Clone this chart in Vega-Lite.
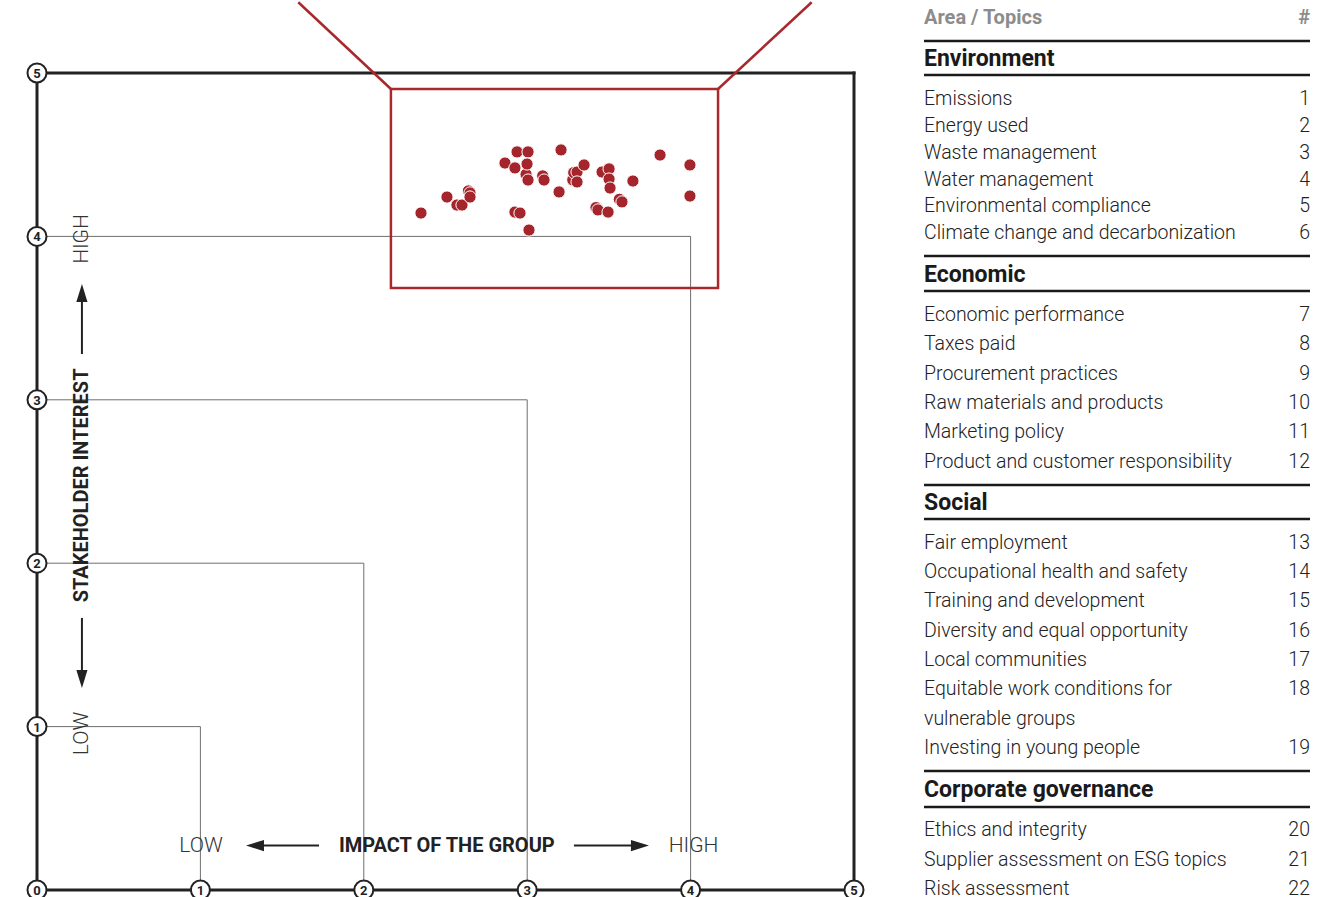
{
  "$schema": "https://vega.github.io/schema/vega-lite/v6.json",
  "autosize": {"type": "pad"},
  "padding": {"left": 23, "top": 0, "right": 0, "bottom": 0},
  "background": "white",
  "spacing": 54,
  "config": {"view": {"stroke": null}, "text": {"font": "Roboto, Liberation Sans, sans-serif"}},
  "datasets": {
    "guides": [
      {"x1": 0, "y1": 1, "x2": 1, "y2": 1}, {"x1": 1, "y1": 1, "x2": 1, "y2": 0},
      {"x1": 0, "y1": 2, "x2": 2, "y2": 2}, {"x1": 2, "y1": 2, "x2": 2, "y2": 0},
      {"x1": 0, "y1": 3, "x2": 3, "y2": 3}, {"x1": 3, "y1": 3, "x2": 3, "y2": 0},
      {"x1": 0, "y1": 4, "x2": 4, "y2": 4}, {"x1": 4, "y1": 4, "x2": 4, "y2": 0}
    ],
    "border": [
      {"x1": 0, "y1": 0, "x2": 0, "y2": 5}, {"x1": 0, "y1": 5, "x2": 5, "y2": 5},
      {"x1": 5, "y1": 5, "x2": 5, "y2": 0}, {"x1": 0, "y1": 0, "x2": 5, "y2": 0}
    ],
    "zoombox": [{"x1": 2.166, "y1": 3.684, "x2": 4.168, "y2": 4.902}],
    "zoomlines": [
      {"x1": 2.166, "y1": 4.902, "x2": 1.599, "y2": 5.433},
      {"x1": 4.168, "y1": 4.902, "x2": 4.741, "y2": 5.433}
    ],
    "topics": [
      {"x": 3.095, "y": 4.370}, {"x": 2.993, "y": 4.380}, {"x": 2.640, "y": 4.278},
      {"x": 3.564, "y": 4.227}, {"x": 3.421, "y": 4.176}, {"x": 3.279, "y": 4.346},
      {"x": 3.285, "y": 4.390},
      {"x": 2.350, "y": 4.143}, {"x": 2.509, "y": 4.241}, {"x": 2.570, "y": 4.192},
      {"x": 2.601, "y": 4.192}, {"x": 2.650, "y": 4.266}, {"x": 2.650, "y": 4.241},
      {"x": 2.864, "y": 4.449}, {"x": 2.925, "y": 4.419}, {"x": 2.938, "y": 4.517},
      {"x": 3.005, "y": 4.517}, {"x": 2.999, "y": 4.443}, {"x": 3.005, "y": 4.345},
      {"x": 3.103, "y": 4.345}, {"x": 2.925, "y": 4.149}, {"x": 2.956, "y": 4.143},
      {"x": 3.011, "y": 4.039}, {"x": 3.207, "y": 4.529}, {"x": 3.195, "y": 4.272},
      {"x": 3.305, "y": 4.394}, {"x": 3.348, "y": 4.437}, {"x": 3.305, "y": 4.333},
      {"x": 3.458, "y": 4.394}, {"x": 3.501, "y": 4.413}, {"x": 3.501, "y": 4.351},
      {"x": 3.507, "y": 4.296}, {"x": 3.647, "y": 4.339}, {"x": 3.580, "y": 4.211},
      {"x": 3.433, "y": 4.162}, {"x": 3.495, "y": 4.149}, {"x": 3.813, "y": 4.498},
      {"x": 3.996, "y": 4.437}, {"x": 3.996, "y": 4.247}
    ],
    "arrowlines": [
      {"x1": 0.275, "y1": 3.280, "x2": 0.275, "y2": 3.654},
      {"x1": 0.275, "y1": 1.665, "x2": 0.275, "y2": 1.291},
      {"x1": 1.726, "y1": 0.272, "x2": 1.334, "y2": 0.272},
      {"x1": 3.286, "y1": 0.272, "x2": 3.690, "y2": 0.272}
    ],
    "arrowheads": [
      {"x": 0.275, "y": 3.654, "dir": "up"},
      {"x": 0.275, "y": 1.291, "dir": "down"},
      {"x": 1.334, "y": 0.272, "dir": "left"},
      {"x": 3.690, "y": 0.272, "dir": "right"}
    ],
    "axislabels": [
      {"text": "HIGH", "x": 0.275, "y": 3.984, "role": "v"},
      {"text": "LOW", "x": 0.275, "y": 0.958, "role": "v"},
      {"text": "STAKEHOLDER INTEREST", "x": 0.275, "y": 2.476, "role": "vt"},
      {"text": "LOW", "x": 1.004, "y": 0.272, "role": "h"},
      {"text": "IMPACT OF THE GROUP", "x": 2.508, "y": 0.272, "role": "ht"},
      {"text": "HIGH", "x": 4.018, "y": 0.272, "role": "h"}
    ],
    "ticks": [
      {"x": 0, "y": 0, "label": "0"}, {"x": 0, "y": 1, "label": "1"}, {"x": 0, "y": 2, "label": "2"},
      {"x": 0, "y": 3, "label": "3"}, {"x": 0, "y": 4, "label": "4"}, {"x": 0, "y": 5, "label": "5"},
      {"x": 1, "y": 0, "label": "1"}, {"x": 2, "y": 0, "label": "2"}, {"x": 3, "y": 0, "label": "3"},
      {"x": 4, "y": 0, "label": "4"}, {"x": 5, "y": 0, "label": "5"}
    ],
    "tablerules": [
      {"row": 0.784}, {"row": 1.943}, {"row": 8.115}, {"row": 9.308},
      {"row": 15.922}, {"row": 17.081}, {"row": 25.673}, {"row": 26.900}
    ],
    "table": [
      {"row": 0, "label": "Area / Topics", "num": "#", "kind": "header"},
      {"row": 1.398, "label": "Environment", "num": null, "kind": "section"},
      {"row": 2.762, "label": "Emissions", "num": "1", "kind": "item"},
      {"row": 3.682, "label": "Energy used", "num": "2", "kind": "item"},
      {"row": 4.603, "label": "Waste management", "num": "3", "kind": "item"},
      {"row": 5.523, "label": "Water management", "num": "4", "kind": "item"},
      {"row": 6.410, "label": "Environmental compliance", "num": "5", "kind": "item"},
      {"row": 7.330, "label": "Climate change and decarbonization", "num": "6", "kind": "item"},
      {"row": 8.762, "label": "Economic", "num": null, "kind": "section"},
      {"row": 10.126, "label": "Economic performance", "num": "7", "kind": "item"},
      {"row": 11.115, "label": "Taxes paid", "num": "8", "kind": "item"},
      {"row": 12.138, "label": "Procurement practices", "num": "9", "kind": "item"},
      {"row": 13.126, "label": "Raw materials and products", "num": "10", "kind": "item"},
      {"row": 14.115, "label": "Marketing policy", "num": "11", "kind": "item"},
      {"row": 15.138, "label": "Product and customer responsibility", "num": "12", "kind": "item"},
      {"row": 16.536, "label": "Social", "num": null, "kind": "section"},
      {"row": 17.900, "label": "Fair employment", "num": "13", "kind": "item"},
      {"row": 18.889, "label": "Occupational health and safety", "num": "14", "kind": "item"},
      {"row": 19.877, "label": "Training and development", "num": "15", "kind": "item"},
      {"row": 20.900, "label": "Diversity and equal opportunity", "num": "16", "kind": "item"},
      {"row": 21.889, "label": "Local communities", "num": "17", "kind": "item"},
      {"row": 22.878, "label": "Equitable work conditions for", "num": "18", "kind": "item"},
      {"row": 23.901, "label": "vulnerable groups", "num": null, "kind": "item"},
      {"row": 24.889, "label": "Investing in young people", "num": "19", "kind": "item"},
      {"row": 26.321, "label": "Corporate governance", "num": null, "kind": "section"},
      {"row": 27.685, "label": "Ethics and integrity", "num": "20", "kind": "item"},
      {"row": 28.708, "label": "Supplier assessment on ESG topics", "num": "21", "kind": "item"},
      {"row": 29.697, "label": "Risk assessment", "num": "22", "kind": "item"}
    ]
  },
  "hconcat": [
    {
      "width": 817,
      "height": 817,
      "layer": [
        {
          "data": {"name": "guides"},
          "mark": {"type": "rule", "color": "#6e6e6e", "strokeWidth": 1},
          "encoding": {
            "x": {"field": "x1", "type": "quantitative", "scale": {"domain": [0, 5], "nice": false, "zero": false}, "axis": null},
            "y": {"field": "y1", "type": "quantitative", "scale": {"domain": [0, 5], "nice": false, "zero": false}, "axis": null},
            "x2": {"field": "x2"},
            "y2": {"field": "y2"}
          }
        },
        {
          "data": {"name": "border"},
          "mark": {"type": "rule", "color": "#222222", "strokeWidth": 3, "strokeCap": "square"},
          "encoding": {
            "x": {"field": "x1", "type": "quantitative", "scale": {"domain": [0, 5], "nice": false, "zero": false}, "axis": null},
            "y": {"field": "y1", "type": "quantitative", "scale": {"domain": [0, 5], "nice": false, "zero": false}, "axis": null},
            "x2": {"field": "x2"},
            "y2": {"field": "y2"}
          }
        },
        {
          "data": {"name": "zoombox"},
          "mark": {"type": "rect", "fillOpacity": 0, "stroke": "#a8282c", "strokeWidth": 2.5},
          "encoding": {
            "x": {"field": "x1", "type": "quantitative", "scale": {"domain": [0, 5], "nice": false, "zero": false}, "axis": null},
            "y": {"field": "y1", "type": "quantitative", "scale": {"domain": [0, 5], "nice": false, "zero": false}, "axis": null},
            "x2": {"field": "x2"},
            "y2": {"field": "y2"}
          }
        },
        {
          "data": {"name": "zoomlines"},
          "mark": {"type": "rule", "color": "#a8282c", "strokeWidth": 2.5},
          "encoding": {
            "x": {"field": "x1", "type": "quantitative", "scale": {"domain": [0, 5], "nice": false, "zero": false}, "axis": null},
            "y": {"field": "y1", "type": "quantitative", "scale": {"domain": [0, 5], "nice": false, "zero": false}, "axis": null},
            "x2": {"field": "x2"},
            "y2": {"field": "y2"}
          }
        },
        {
          "data": {"name": "topics"},
          "mark": {"type": "circle", "size": 150, "color": "#a4262c", "opacity": 1, "stroke": "white", "strokeWidth": 1},
          "encoding": {
            "x": {"field": "x", "type": "quantitative", "scale": {"domain": [0, 5], "nice": false, "zero": false}, "axis": null},
            "y": {"field": "y", "type": "quantitative", "scale": {"domain": [0, 5], "nice": false, "zero": false}, "axis": null}
          }
        },
        {
          "data": {"name": "arrowlines"},
          "mark": {"type": "rule", "color": "#222222", "strokeWidth": 2},
          "encoding": {
            "x": {"field": "x1", "type": "quantitative", "scale": {"domain": [0, 5], "nice": false, "zero": false}, "axis": null},
            "y": {"field": "y1", "type": "quantitative", "scale": {"domain": [0, 5], "nice": false, "zero": false}, "axis": null},
            "x2": {"field": "x2"},
            "y2": {"field": "y2"}
          }
        },
        {
          "data": {"name": "arrowheads"},
          "mark": {"type": "point", "filled": true, "size": 324, "color": "#222222", "opacity": 1},
          "encoding": {
            "x": {"field": "x", "type": "quantitative", "scale": {"domain": [0, 5], "nice": false, "zero": false}, "axis": null},
            "y": {"field": "y", "type": "quantitative", "scale": {"domain": [0, 5], "nice": false, "zero": false}, "axis": null},
            "shape": {
              "field": "dir", "type": "nominal", "legend": null,
              "scale": {
                "domain": ["up", "down", "left", "right"],
                "range": ["M 0 -1 L 0.62 1 L -0.62 1 Z", "M 0 1 L 0.62 -1 L -0.62 -1 Z", "M -1 0 L 1 -0.62 L 1 0.62 Z", "M 1 0 L -1 -0.62 L -1 0.62 Z"]
              }
            }
          }
        },
        {
          "data": {"name": "axislabels"},
          "transform": [{"filter": "datum.role === 'v'"}],
          "mark": {"type": "text", "angle": 270, "fontSize": 21, "fontWeight": 300, "color": "#333333", "baseline": "middle", "align": "center"},
          "encoding": {
            "x": {"field": "x", "type": "quantitative", "scale": {"domain": [0, 5], "nice": false, "zero": false}, "axis": null},
            "y": {"field": "y", "type": "quantitative", "scale": {"domain": [0, 5], "nice": false, "zero": false}, "axis": null},
            "text": {"field": "text"}
          }
        },
        {
          "data": {"name": "axislabels"},
          "transform": [{"filter": "datum.role === 'vt'"}],
          "mark": {"type": "text", "angle": 270, "fontSize": 20, "fontWeight": "bold", "color": "#222222", "baseline": "middle", "align": "center"},
          "encoding": {
            "x": {"field": "x", "type": "quantitative", "scale": {"domain": [0, 5], "nice": false, "zero": false}, "axis": null},
            "y": {"field": "y", "type": "quantitative", "scale": {"domain": [0, 5], "nice": false, "zero": false}, "axis": null},
            "text": {"field": "text"}
          }
        },
        {
          "data": {"name": "axislabels"},
          "transform": [{"filter": "datum.role === 'h'"}],
          "mark": {"type": "text", "fontSize": 21, "fontWeight": 300, "color": "#333333", "baseline": "middle", "align": "center"},
          "encoding": {
            "x": {"field": "x", "type": "quantitative", "scale": {"domain": [0, 5], "nice": false, "zero": false}, "axis": null},
            "y": {"field": "y", "type": "quantitative", "scale": {"domain": [0, 5], "nice": false, "zero": false}, "axis": null},
            "text": {"field": "text"}
          }
        },
        {
          "data": {"name": "axislabels"},
          "transform": [{"filter": "datum.role === 'ht'"}],
          "mark": {"type": "text", "fontSize": 20, "fontWeight": "bold", "color": "#222222", "baseline": "middle", "align": "center"},
          "encoding": {
            "x": {"field": "x", "type": "quantitative", "scale": {"domain": [0, 5], "nice": false, "zero": false}, "axis": null},
            "y": {"field": "y", "type": "quantitative", "scale": {"domain": [0, 5], "nice": false, "zero": false}, "axis": null},
            "text": {"field": "text"}
          }
        },
        {
          "data": {"name": "ticks"},
          "mark": {"type": "point", "shape": "circle", "filled": false, "size": 361, "fill": "white", "stroke": "#222222", "strokeWidth": 2, "opacity": 1},
          "encoding": {
            "x": {"field": "x", "type": "quantitative", "scale": {"domain": [0, 5], "nice": false, "zero": false}, "axis": null},
            "y": {"field": "y", "type": "quantitative", "scale": {"domain": [0, 5], "nice": false, "zero": false}, "axis": null}
          }
        },
        {
          "data": {"name": "ticks"},
          "mark": {"type": "text", "fontSize": 13, "fontWeight": "bold", "color": "#222222", "baseline": "middle", "align": "center", "dy": 1},
          "encoding": {
            "x": {"field": "x", "type": "quantitative", "scale": {"domain": [0, 5], "nice": false, "zero": false}, "axis": null},
            "y": {"field": "y", "type": "quantitative", "scale": {"domain": [0, 5], "nice": false, "zero": false}, "axis": null},
            "text": {"field": "label"}
          }
        }
      ]
    },
    {
      "width": 386,
      "height": 825,
      "layer": [
        {
          "data": {"name": "tablerules"},
          "mark": {"type": "rule", "color": "#1a1a1a", "strokeWidth": 2.5},
          "encoding": {
            "y": {"field": "row", "type": "quantitative", "scale": {"domain": [1.875, 30], "reverse": true, "nice": false, "zero": false}, "axis": null}
          }
        },
        {
          "data": {"name": "table"},
          "transform": [{"filter": "datum.kind === 'header'"}],
          "mark": {"type": "text", "fontSize": 20, "fontWeight": "bold", "color": "#8c8c8c", "baseline": "middle", "align": "left"},
          "encoding": {
            "x": {"datum": 0, "type": "quantitative", "scale": {"domain": [0, 1], "nice": false, "zero": false}, "axis": null},
            "y": {"field": "row", "type": "quantitative", "scale": {"domain": [1.875, 30], "reverse": true, "nice": false, "zero": false}, "axis": null},
            "text": {"field": "label"}
          }
        },
        {
          "data": {"name": "table"},
          "transform": [{"filter": "datum.kind === 'header'"}],
          "mark": {"type": "text", "fontSize": 20, "fontWeight": "bold", "color": "#8c8c8c", "baseline": "middle", "align": "right"},
          "encoding": {
            "x": {"datum": 1, "type": "quantitative", "scale": {"domain": [0, 1], "nice": false, "zero": false}, "axis": null},
            "y": {"field": "row", "type": "quantitative", "scale": {"domain": [1.875, 30], "reverse": true, "nice": false, "zero": false}, "axis": null},
            "text": {"field": "num"}
          }
        },
        {
          "data": {"name": "table"},
          "transform": [{"filter": "datum.kind === 'section'"}],
          "mark": {"type": "text", "fontSize": 23, "fontWeight": "bold", "color": "#1a1a1a", "baseline": "middle", "align": "left"},
          "encoding": {
            "x": {"datum": 0, "type": "quantitative", "scale": {"domain": [0, 1], "nice": false, "zero": false}, "axis": null},
            "y": {"field": "row", "type": "quantitative", "scale": {"domain": [1.875, 30], "reverse": true, "nice": false, "zero": false}, "axis": null},
            "text": {"field": "label"}
          }
        },
        {
          "data": {"name": "table"},
          "transform": [{"filter": "datum.kind === 'item'"}],
          "mark": {"type": "text", "fontSize": 19.5, "fontWeight": 300, "color": "#222222", "baseline": "middle", "align": "left"},
          "encoding": {
            "x": {"datum": 0, "type": "quantitative", "scale": {"domain": [0, 1], "nice": false, "zero": false}, "axis": null},
            "y": {"field": "row", "type": "quantitative", "scale": {"domain": [1.875, 30], "reverse": true, "nice": false, "zero": false}, "axis": null},
            "text": {"field": "label"}
          }
        },
        {
          "data": {"name": "table"},
          "transform": [{"filter": "datum.kind === 'item' && datum.num != null"}],
          "mark": {"type": "text", "fontSize": 19.5, "fontWeight": 300, "color": "#222222", "baseline": "middle", "align": "right"},
          "encoding": {
            "x": {"datum": 1, "type": "quantitative", "scale": {"domain": [0, 1], "nice": false, "zero": false}, "axis": null},
            "y": {"field": "row", "type": "quantitative", "scale": {"domain": [1.875, 30], "reverse": true, "nice": false, "zero": false}, "axis": null},
            "text": {"field": "num"}
          }
        }
      ]
    }
  ]
}
